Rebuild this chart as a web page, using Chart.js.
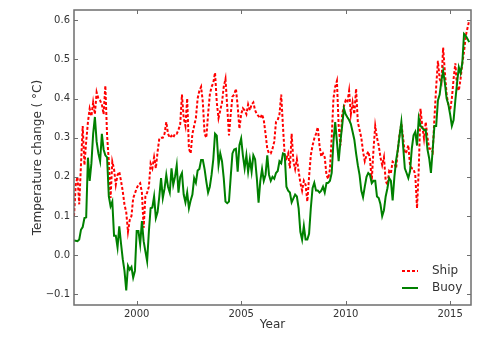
<!DOCTYPE html>
<html lang="en">
<head>
    <meta charset="UTF-8">
    <title>Ship vs Buoy temperature change</title>
    <script src="https://cdn.jsdelivr.net/npm/chart.js"></script>
    <style>
        body { margin: 0; background: #fff; }
        #wrap { width: 500px; height: 339px; }
    </style>
</head>
<body>
    <div id="wrap">
        <canvas id="tempChart"></canvas>
    </div>

    <script>
        // Monthly series, January 1997 onwards
        const startYear = 1997;

        const shipValues = [
            0.10, 0.18, 0.20, 0.13, 0.23, 0.33, 0.23, 0.29, 0.34, 0.374,
            0.355, 0.39, 0.36, 0.416, 0.40, 0.395, 0.385, 0.36, 0.433, 0.306,
            0.24, 0.146, 0.239, 0.22, 0.18, 0.205, 0.213, 0.19, 0.163, 0.129,
            0.11, 0.06, 0.09, 0.10, 0.146, 0.158, 0.171, 0.18, 0.184, 0.16,
            0.07, 0.15, 0.16, 0.175, 0.234, 0.222, 0.25, 0.222, 0.264, 0.298,
            0.30, 0.30, 0.31, 0.34, 0.31, 0.30, 0.305, 0.30, 0.31, 0.31,
            0.32, 0.335, 0.41, 0.35, 0.33, 0.40, 0.272, 0.26, 0.31, 0.33,
            0.35, 0.40, 0.42, 0.43, 0.39, 0.31, 0.30, 0.36, 0.41, 0.43,
            0.44, 0.466, 0.39, 0.35, 0.37, 0.39, 0.43, 0.45, 0.38, 0.306,
            0.36, 0.405, 0.41, 0.425, 0.38, 0.323, 0.36, 0.375, 0.37, 0.36,
            0.385, 0.37, 0.385, 0.39, 0.37, 0.36, 0.355, 0.35, 0.36, 0.345,
            0.31, 0.272, 0.26, 0.26, 0.272, 0.29, 0.34, 0.345, 0.36, 0.41,
            0.33, 0.255, 0.247, 0.26, 0.222, 0.31, 0.24, 0.22, 0.245, 0.215,
            0.185, 0.165, 0.19, 0.18, 0.137, 0.2, 0.255, 0.28, 0.298, 0.31,
            0.327, 0.28, 0.252, 0.26, 0.25, 0.205, 0.195, 0.22, 0.3, 0.40,
            0.43, 0.445, 0.33, 0.28, 0.36, 0.38, 0.395, 0.39, 0.42, 0.36,
            0.39, 0.36, 0.425, 0.34, 0.32, 0.30, 0.265, 0.24, 0.255, 0.265,
            0.245, 0.19, 0.27, 0.33, 0.30, 0.28, 0.25, 0.23, 0.25, 0.19,
            0.18, 0.215, 0.21, 0.239, 0.235, 0.222, 0.27, 0.31, 0.336, 0.30,
            0.26, 0.265, 0.281, 0.23, 0.222, 0.22, 0.205, 0.12, 0.22, 0.374,
            0.33, 0.298, 0.34, 0.30, 0.272, 0.272, 0.264, 0.35, 0.43, 0.496,
            0.45, 0.44, 0.53, 0.467, 0.41, 0.385, 0.37, 0.40, 0.45, 0.49,
            0.43, 0.42, 0.45, 0.49, 0.52, 0.56, 0.58, 0.60
        ];

        const buoyValues = [
            0.038, 0.037, 0.036, 0.04, 0.065, 0.072, 0.095, 0.097, 0.249, 0.19,
            0.235, 0.31, 0.353, 0.29, 0.26, 0.24, 0.31, 0.27, 0.255, 0.25,
            0.15, 0.125, 0.137, 0.05, 0.05, 0.02, 0.074, 0.03, -0.01, -0.04,
            -0.09, -0.027, -0.037, -0.03, -0.057, -0.04, 0.062, 0.062, 0.028, 0.087,
            0.036, 0.01, -0.015, 0.06, 0.12, 0.122, 0.15, 0.095, 0.11, 0.15,
            0.197, 0.146, 0.17, 0.205, 0.175, 0.16, 0.222, 0.18, 0.2, 0.23,
            0.16, 0.2, 0.21, 0.155, 0.135, 0.16, 0.12, 0.14, 0.155, 0.197,
            0.185, 0.216, 0.22, 0.243, 0.243, 0.22, 0.188, 0.16, 0.175, 0.205,
            0.245, 0.31, 0.305, 0.23, 0.26, 0.24, 0.197, 0.137, 0.133, 0.137,
            0.2, 0.26, 0.27, 0.272, 0.213, 0.281, 0.298, 0.255, 0.222, 0.255,
            0.213, 0.245, 0.213, 0.255, 0.245, 0.197, 0.134, 0.19, 0.22, 0.19,
            0.205, 0.255, 0.205, 0.19, 0.2, 0.195, 0.21, 0.215, 0.24, 0.235,
            0.26, 0.258, 0.175, 0.165, 0.16, 0.135, 0.145, 0.155, 0.15, 0.12,
            0.06, 0.04, 0.075, 0.04, 0.04, 0.055, 0.12, 0.171, 0.185, 0.165,
            0.165, 0.16, 0.165, 0.175, 0.16, 0.184, 0.185, 0.19, 0.21, 0.29,
            0.34, 0.29, 0.24, 0.29, 0.33, 0.375, 0.36, 0.352, 0.345, 0.335,
            0.315, 0.295, 0.26, 0.23, 0.205, 0.165, 0.148, 0.175, 0.2, 0.21,
            0.205, 0.184, 0.19, 0.19, 0.15, 0.146, 0.13, 0.1, 0.115, 0.15,
            0.171, 0.197, 0.19, 0.14, 0.2, 0.243, 0.27, 0.306, 0.34, 0.28,
            0.222, 0.21, 0.197, 0.215, 0.272, 0.306, 0.315, 0.28, 0.35, 0.33,
            0.325, 0.32, 0.32, 0.27, 0.247, 0.21, 0.27, 0.33, 0.33, 0.395,
            0.41, 0.445, 0.47, 0.44, 0.4, 0.385, 0.36, 0.33, 0.345, 0.395,
            0.44, 0.48, 0.465, 0.49, 0.565, 0.56, 0.552, 0.544
        ];

        const xTicks = [2000, 2005, 2010, 2015];
        const yTicks = [-0.1, 0.0, 0.1, 0.2, 0.3, 0.4, 0.5, 0.6];

        const textColor = '#333';
        const frameColor = '#6e6e6e';

        // one point per month
        const toPoints = values => values.map((v, i) => ({ x: startYear + i / 12, y: v }));

        // Frame on all four sides, inward ticks and the legend box
        const framePlugin = {
            id: 'frame',
            afterDraw(chart) {
                const { ctx, chartArea: a, scales: { x, y } } = chart;
                ctx.save();
                ctx.strokeStyle = frameColor;
                ctx.lineWidth = 1;
                ctx.beginPath();
                xTicks.forEach(v => {
                    const px = Math.round(x.getPixelForValue(v)) + 0.5;
                    ctx.moveTo(px, a.bottom); ctx.lineTo(px, a.bottom - 4);
                    ctx.moveTo(px, a.top); ctx.lineTo(px, a.top + 4);
                });
                yTicks.forEach(v => {
                    const py = Math.round(y.getPixelForValue(v)) + 0.5;
                    ctx.moveTo(a.left, py); ctx.lineTo(a.left + 4, py);
                    ctx.moveTo(a.right, py); ctx.lineTo(a.right - 4, py);
                });
                ctx.stroke();
                ctx.lineWidth = 1.5;
                ctx.strokeRect(a.left, a.top, a.width, a.height);

                // legend
                const items = chart.data.datasets.slice().reverse();
                ctx.font = '12px "DejaVu Sans"';
                ctx.textBaseline = 'middle';
                items.forEach((ds, i) => {
                    const ly = a.bottom - 34 + i * 17;
                    ctx.strokeStyle = ds.borderColor;
                    ctx.lineWidth = ds.borderWidth;
                    ctx.setLineDash(ds.borderDash || []);
                    ctx.beginPath();
                    ctx.moveTo(a.right - 69, ly);
                    ctx.lineTo(a.right - 53, ly);
                    ctx.stroke();
                    ctx.setLineDash([]);
                    ctx.fillStyle = textColor;
                    ctx.fillText(ds.label, a.right - 39, ly);
                });
                ctx.restore();
            }
        };

        const ctx = document.getElementById('tempChart').getContext('2d');
        const tempChart = new Chart(ctx, {
            type: 'line',
            data: {
                datasets: [
                    {
                        label: 'Buoy',
                        data: toPoints(buoyValues),
                        borderColor: '#008000',
                        borderWidth: 2,
                        pointRadius: 0,
                        fill: false,
                    },
                    {
                        label: 'Ship',
                        data: toPoints(shipValues),
                        borderColor: '#ff0000',
                        borderWidth: 2,
                        borderDash: [3, 2],
                        pointRadius: 0,
                        fill: false,
                    },
                ],
            },
            options: {
                responsive: true,
                maintainAspectRatio: false,
                animation: false,
                layout: { padding: { top: 7, right: 29, left: 0, bottom: 0 } },
                plugins: {
                    legend: { display: false },
                    tooltip: { enabled: false },
                },
                scales: {
                    x: {
                        type: 'linear',
                        min: 1997,
                        max: 2016,
                        grid: { display: false, drawTicks: false, tickLength: 0 },
                        border: { display: false },
                        afterBuildTicks: axis => { axis.ticks = xTicks.map(v => ({ value: v })); },
                        afterFit: axis => { axis.height = 34; },
                        ticks: {
                            padding: 3,
                            color: textColor,
                            font: { family: 'DejaVu Sans', size: 10 },
                            maxRotation: 0,
                            callback: v => String(v),
                        },
                        title: {
                            display: true,
                            text: 'Year',
                            color: textColor,
                            font: { family: 'DejaVu Sans', size: 12 },
                            padding: { top: 0, bottom: 7 },
                        },
                    },
                    y: {
                        min: -0.127,
                        max: 0.626,
                        grid: { display: false, drawTicks: false, tickLength: 0 },
                        border: { display: false },
                        afterBuildTicks: axis => { axis.ticks = yTicks.map(v => ({ value: v })); },
                        afterFit: axis => { axis.width = 74; },
                        ticks: {
                            padding: 4,
                            color: textColor,
                            font: { family: 'DejaVu Sans', size: 10 },
                            callback: v => (v < 0 ? '\u2212' : '') + Math.abs(v).toFixed(1),
                        },
                        title: {
                            display: true,
                            text: 'Temperature change ( \u00b0C)',
                            color: textColor,
                            font: { family: 'DejaVu Sans', size: 12 },
                            padding: { top: 31, bottom: 0 },
                        },
                    },
                },
            },
            plugins: [framePlugin],
        });
    </script>
</body>
</html>
